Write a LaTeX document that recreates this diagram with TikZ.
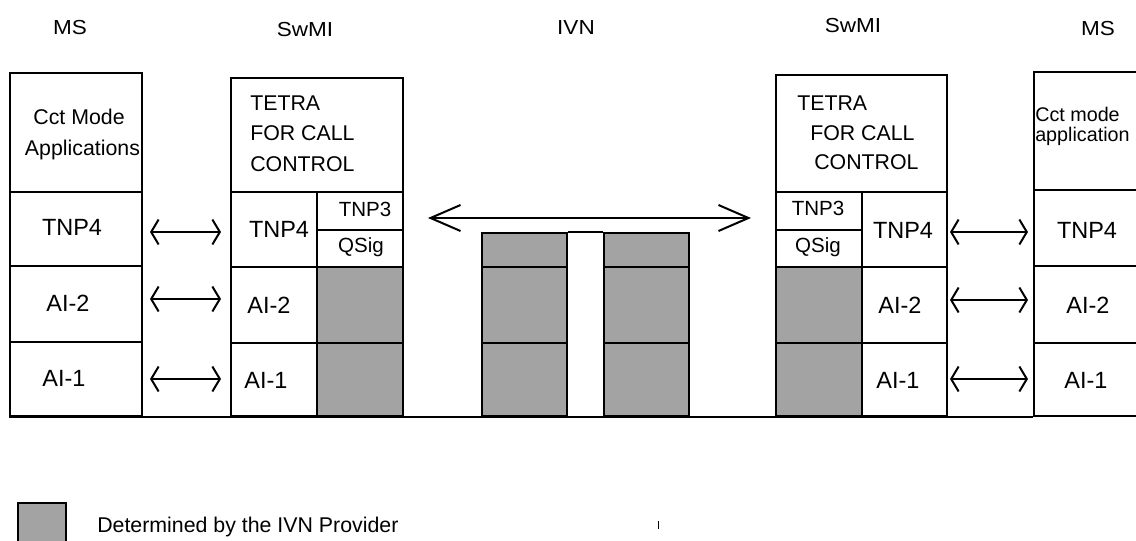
\documentclass[tikz,border=0pt]{standalone}
\usepackage{graphicx}
\usepackage{fontspec}
\setmainfont{Liberation Sans}
\usetikzlibrary{arrows.meta,fit}
\begin{document}
\begin{tikzpicture}[x=0.75pt,y=-0.75pt,
  cell/.style={draw, line width=1.5pt, inner sep=0pt},
  shd/.style={cell, fill=gray!72},
  lay/.style={font=\fontsize{17.6pt}{21pt}\selectfont, inner sep=0pt, text height=12.6pt, text depth=0pt},
  mid/.style={font=\fontsize{16pt}{19pt}\selectfont, inner sep=0pt, text height=11.5pt, text depth=0pt},
  sml/.style={font=\fontsize{15.4pt}{18pt}\selectfont, inner sep=0pt, text height=11pt, text depth=0pt},
  cctr/.style={font=\fontsize{14.8pt}{14pt}\selectfont, inner sep=0pt, text height=10.6pt, text depth=0pt},
  hdr/.style={font=\fontsize{16.9pt}{20pt}\selectfont, inner sep=0pt, text height=10.9pt, text depth=0pt},
  arrs/.style={line width=1.5pt, {Straight Barb[length=5.6pt,width=18.75pt]}-{Straight Barb[length=5.6pt,width=18.75pt]}},
  arrb/.style={line width=1.5pt, {Straight Barb[length=22.5pt,width=19.5pt]}-{Straight Barb[length=22.5pt,width=19.5pt]}}
]
\useasboundingbox (0,0) rectangle (1136,540);
\clip (0,0) rectangle (1136,540);

% headers
\node[hdr] (hMSL) at (70,27) {\scalebox{1}[0.9]{MS}};
\node[hdr] (hSwL) at (305,29) {\scalebox{1}[0.9]{SwMI}};
\node[hdr] (hIVN) at (576,27) {\scalebox{1}[0.9]{IVN}};
\node[hdr] (hSwR) at (853,25) {\scalebox{1}[0.9]{SwMI}};
\node[hdr] (hMSR) at (1098,28) {\scalebox{1}[0.9]{MS}};

% left MS
\node[cell, fit={(10,73)(142,192)}] (msLapp) {};
\node[cell, fit={(10,192)(142,266)}] (msL4) {};
\node[cell, fit={(10,266)(142,342)}] (msL2) {};
\node[cell, fit={(10,342)(142,416)}] (msL1) {};

% left SwMI
\node[cell, fit={(231,78)(403,192)}] (swLt) {};
\node[cell, fit={(231,192)(317,267)}] (swL4) {};
\node[cell, fit={(317,192)(403,230)}] (swL3) {};
\node[cell, fit={(317,230)(403,267)}] (swLq) {};
\node[cell, fit={(231,267)(317,343)}] (swL2) {};
\node[shd, fit={(317,267)(403,343)}] (swLs2) {};
\node[cell, fit={(231,343)(317,416)}] (swL1) {};
\node[shd, fit={(317,343)(403,416)}] (swLs1) {};

% IVN
\node[shd, fit={(482,233)(567,267)}] (ivnA3) {};
\node[shd, fit={(482,267)(567,343)}] (ivnA2) {};
\node[shd, fit={(482,343)(567,416)}] (ivnA1) {};
\node[shd, fit={(604,233)(689,267)}] (ivnB3) {};
\node[shd, fit={(604,267)(689,343)}] (ivnB2) {};
\node[shd, fit={(604,343)(689,416)}] (ivnB1) {};
\draw[line width=1.5pt] (ivnA3.north east) -- (ivnB3.north west);

% right SwMI
\node[cell, fit={(776,75)(947,192)}] (swRt) {};
\node[cell, fit={(776,192)(862,230)}] (swR3) {};
\node[cell, fit={(776,230)(862,267)}] (swRq) {};
\node[cell, fit={(862,192)(947,267)}] (swR4) {};
\node[shd, fit={(776,267)(862,343)}] (swRs2) {};
\node[cell, fit={(862,267)(947,343)}] (swR2) {};
\node[shd, fit={(776,343)(862,416)}] (swRs1) {};
\node[cell, fit={(862,343)(947,416)}] (swR1) {};

% right MS
\node[cell, fit={(1034,72)(1142,190)}] (msRapp) {};
\node[cell, fit={(1034,190)(1142,266)}] (msR4) {};
\node[cell, fit={(1034,266)(1142,343)}] (msR2) {};
\node[cell, fit={(1034,343)(1142,416)}] (msR1) {};

% ground line
\draw[line width=1.5pt] (msL1.south west) -- (msR1.south west);

% texts left MS
\node[mid] (tLc1) at (79,117) {Cct Mode};
\node[mid] (tLc2) at (82.5,148) {Applications};
\node[lay] (tL4) at (72,227) {TNP4};
\node[lay] (tL2) at (68,303) {AI-2};
\node[lay] (tL1) at (64,378.5) {AI-1};

% texts left SwMI
\node[mid, anchor=west] (tSL1) at (250,103) {TETRA};
\node[mid, anchor=west] (tSL2) at (250,133) {FOR CALL};
\node[mid, anchor=west] (tSL3) at (250,164) {CONTROL};
\node[lay] (tSL4) at (279,229) {TNP4};
\node[sml] (tSL5) at (365,209.5) {TNP3};
\node[sml] (tSL6) at (361,245) {QSig};
\node[lay] (tSL7) at (269,305) {AI-2};
\node[lay] (tSL8) at (266,380) {AI-1};

% texts right SwMI
\node[mid, anchor=west] (tSR1) at (797,103) {TETRA};
\node[mid, anchor=west] (tSR2) at (810,133) {FOR CALL};
\node[mid, anchor=west] (tSR3) at (814,162) {CONTROL};
\node[sml] (tSR5) at (818,208) {TNP3};
\node[sml] (tSR6) at (818,245) {QSig};
\node[lay] (tSR4) at (903,230) {TNP4};
\node[lay] (tSR7) at (900,305) {AI-2};
\node[lay] (tSR8) at (898,380) {AI-1};

% texts right MS
\node[cctr, anchor=west] (tRc1) at (1035,114) {Cct mode};
\node[cctr, anchor=west] (tRc2) at (1035,134) {application};
\node[lay] (tR4) at (1087,230) {TNP4};
\node[lay] (tR2) at (1088,305) {AI-2};
\node[lay] (tR1) at (1086,380) {AI-1};

% arrows left
\draw[arrs, shorten <=5.25pt, shorten >=6.75pt] (msL4.east |- 0,232) -- (swL4.west |- 0,232);
\draw[arrs, shorten <=5.25pt, shorten >=6.75pt] (msL2.east |- 0,299) -- (swL2.west |- 0,299);
\draw[arrs, shorten <=5.25pt, shorten >=6.75pt] (msL1.east |- 0,379) -- (swL1.west |- 0,379);

% central arrow
\draw[arrb, shorten <=18pt, shorten >=18pt] (swL3.east |- 0,218) -- (swR3.west |- 0,218);

% arrows right
\draw[arrs, shorten <=1.5pt, shorten >=3.75pt] (swR4.east |- 0,232) -- (msR4.west |- 0,232);
\draw[arrs, shorten <=1.5pt, shorten >=3.75pt] (swR2.east |- 0,300) -- (msR2.west |- 0,300);
\draw[arrs, shorten <=1.5pt, shorten >=3.75pt] (swR1.east |- 0,379) -- (msR1.west |- 0,379);

% legend
\node[shd, fit={(18,503)(66,546)}] (leg) {};
\node[mid, anchor=west] (legt) at (97,525) {Determined by the IVN Provider};
\draw[line width=0.75pt] (658,521) -- (658,529);
\end{tikzpicture}
\end{document}
